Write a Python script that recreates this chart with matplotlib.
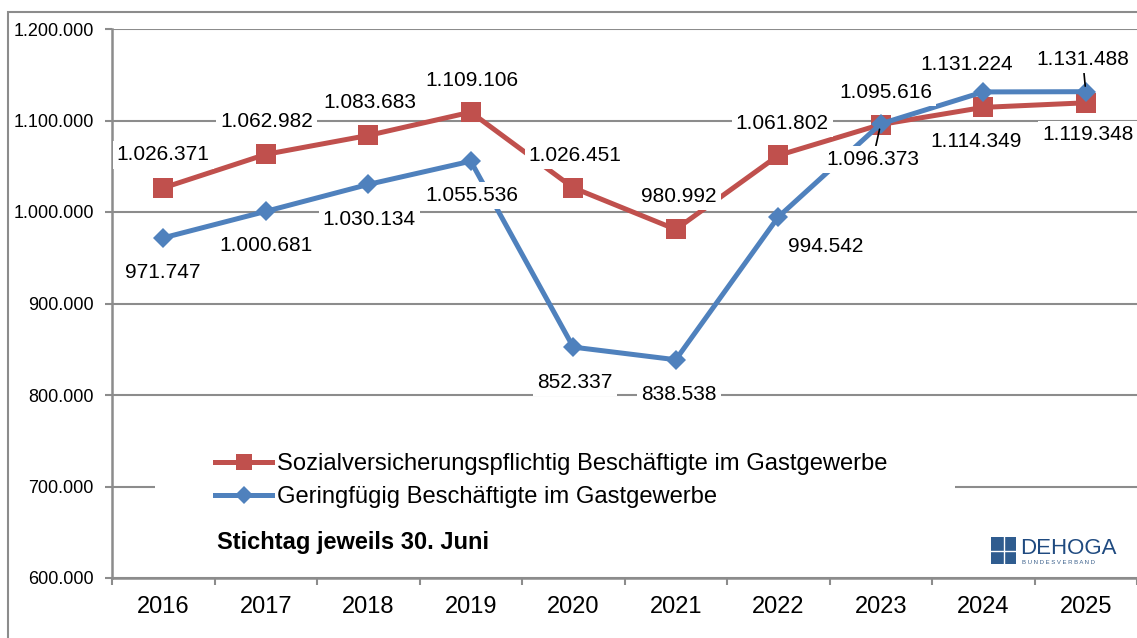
import matplotlib
matplotlib.use("Agg")
import matplotlib.pyplot as plt
from matplotlib.lines import Line2D
from matplotlib.patches import Rectangle
from matplotlib.ticker import FuncFormatter, FixedLocator

plt.rcParams['font.family'] = ['Liberation Sans', 'DejaVu Sans']

# ---- data ----
years = ["2016", "2017", "2018", "2019", "2020", "2021", "2022", "2023", "2024", "2025"]
sozial = [1026371, 1062982, 1083683, 1109106, 1026451, 980992, 1061802, 1095616, 1114349, 1119348]
gering = [971747, 1000681, 1030134, 1055536, 852337, 838538, 994542, 1096373, 1131224, 1131488]
label_sozial = "Sozialversicherungspflichtig Beschäftigte im Gastgewerbe"
label_gering = "Geringfügig Beschäftigte im Gastgewerbe"
note = "Stichtag jeweils 30. Juni"
y_ticks = [600000, 700000, 800000, 900000, 1000000, 1100000, 1200000]

# ---- layout (label offsets in pixels) ----
off_sozial = [(0, 33), (1, 33), (2, 33), (1, 32), (2, 32), (3, 33), (4, 32), (5, 32), (-7, -34), (2, -32)]
off_gering = [(0, -35), (0, -34), (1, -35), (1, -34), (2, -35), (3, -35), (47, -30), (-8, -36), (-17, 27), (-3, 32)]
leader_gering = [False, False, False, False, False, False, False, True, False, True]

RED = "#C0504D"
BLUE = "#4F81BD"
GRID = "#8C8C8C"

W, H = 1137, 638
fig = plt.figure(figsize=(W / 100, H / 100), dpi=100)
ax = fig.add_axes([112 / W, 1 - 578 / H, 1025 / W, (578 - 29) / H])

def de_fmt(v, pos=None):
    return f"{int(round(v)):,}".replace(",", ".")

x = list(range(len(years)))
ax.plot(x, sozial, color=RED, lw=3.6, marker='s', markersize=14, markeredgewidth=0, zorder=4)
ax.plot(x, gering, color=BLUE, lw=3.6, marker='D', markersize=10, markeredgewidth=0, zorder=5)

ax.set_xlim(-0.5, len(years) - 0.5)
ax.set_ylim(600000, 1200000)
ax.yaxis.set_major_locator(FixedLocator(y_ticks))
ax.yaxis.set_major_formatter(FuncFormatter(de_fmt))
ax.set_xticks(x)
ax.set_xticklabels(years)
ax.set_xticks([i - 0.5 for i in range(len(years) + 1)], minor=True)
ax.tick_params(axis='x', which='major', length=0, pad=13, labelsize=17)
ax.tick_params(axis='x', which='minor', length=5, width=1.5, color=GRID, direction='out')
ax.tick_params(axis='y', which='major', length=5, width=1.5, color=GRID, pad=8, labelsize=13)
ax.grid(axis='y', color=GRID, lw=1.5, zorder=1)
ax.set_axisbelow(True)
for s in ['top', 'right']:
    ax.spines[s].set_visible(False)
for s in ['left', 'bottom']:
    ax.spines[s].set_color(GRID)
    ax.spines[s].set_linewidth(1.8)

bb = dict(boxstyle='square,pad=0.2', fc='white', ec='none')
for i, v in enumerate(sozial):
    ax.annotate(de_fmt(v), (i, v), xytext=off_sozial[i], textcoords='offset pixels',
                ha='center', va='center', fontsize=15, bbox=bb, zorder=6)
for i, v in enumerate(gering):
    ap = dict(arrowstyle='-', color='black', lw=1.2, shrinkA=0, shrinkB=4) if leader_gering[i] else None
    ax.annotate(de_fmt(v), (i, v), xytext=off_gering[i], textcoords='offset pixels',
                ha='center', va='center', fontsize=15, bbox=bb, zorder=6, arrowprops=ap)

# legend background
ax.add_patch(Rectangle((43 / 1025, (578 - 522) / 549), 800 / 1025, 82 / 549,
                       transform=ax.transAxes, fc='white', ec='none', zorder=2))
handles = [Line2D([], [], color=RED, lw=3.6, marker='s', markersize=12, markeredgewidth=0),
           Line2D([], [], color=BLUE, lw=3.6, marker='D', markersize=9, markeredgewidth=0)]
leg = ax.legend(handles, [label_sozial, label_gering], loc='upper left',
                bbox_to_anchor=((215 - 112) / 1025, (578 - 453) / 549), frameon=False,
                fontsize=17.1, borderpad=0, borderaxespad=0, handlelength=2.4,
                handletextpad=0.2, labelspacing=0.48)
leg.set_zorder(7)

ax.text((217 - 112) / 1025, (578 - 542) / 549, note, transform=ax.transAxes,
        fontsize=17, fontweight='bold', ha='left', va='center', zorder=7)

# logo
fig.patches.append(Rectangle((991 / W, 1 - 564 / H), 25 / W, 27 / H, transform=fig.transFigure,
                             fc='#2F5C8F', ec='none'))
fig.lines.append(Line2D([1003.5 / W, 1003.5 / W], [1 - 564 / H, 1 - 537 / H], transform=fig.transFigure, color='white', lw=1))
fig.lines.append(Line2D([991 / W, 1016 / W], [1 - 550.5 / H, 1 - 550.5 / H], transform=fig.transFigure, color='white', lw=1))
fig.text(1020 / W, 1 - 549 / H, "DEHOGA", fontsize=16, color='#1F4A80', ha='left', va='center')
fig.text(1022 / W, 1 - 563 / H, "B U N D E S V E R B A N D", fontsize=4.3, color='#3A5F8A', ha='left', va='center')

# outer border
fig.patches.append(Rectangle((8 / W, -0.05), 1.2, 1 - 12 / H + 0.05, transform=fig.transFigure,
                             fc='none', ec='#8C8C8C', lw=1.5))

fig.savefig("out.png", dpi=100)
